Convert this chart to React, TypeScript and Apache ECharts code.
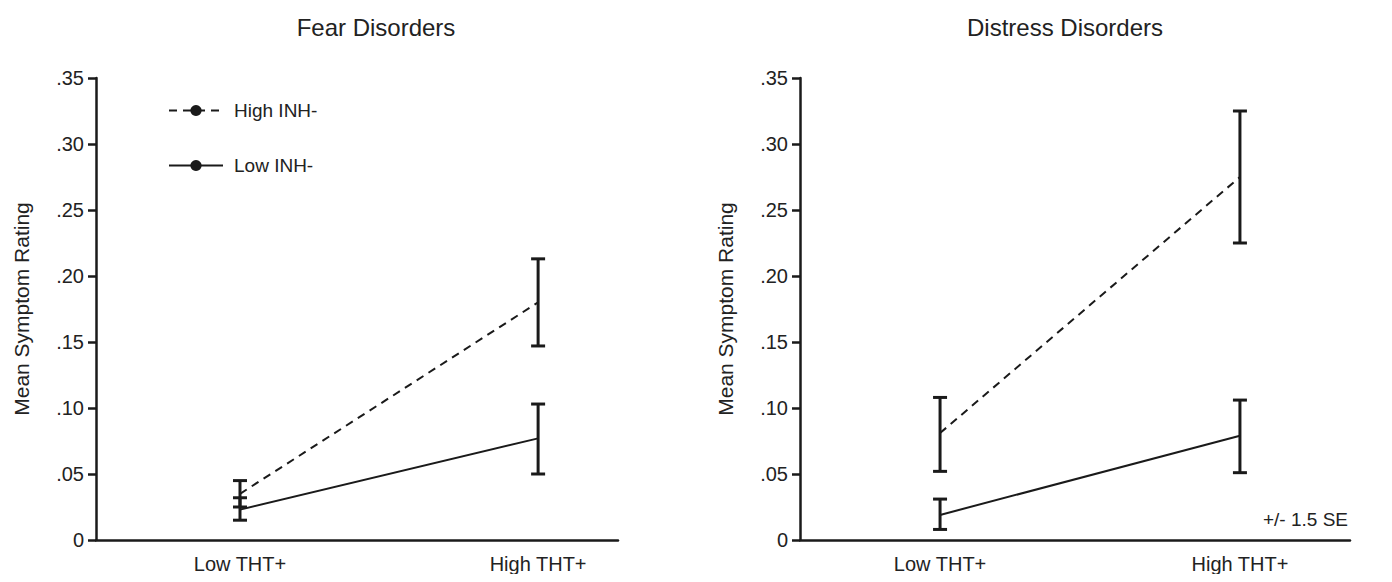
import { useEffect, useRef } from 'react'
import * as echarts from 'echarts'

const categories = ['Low THT+', 'High THT+']
const seriesNames = ['High INH-', 'Low INH-']

// Fear disorders: mean, lower, upper (+/- 1.5 SE)
const fearHigh = [0.035, 0.18]
const fearHighLo = [0.025, 0.147]
const fearHighHi = [0.045, 0.213]
const fearLow = [0.023, 0.077]
const fearLowLo = [0.015, 0.05]
const fearLowHi = [0.032, 0.103]

// Distress disorders
const distHigh = [0.081, 0.275]
const distHighLo = [0.052, 0.225]
const distHighHi = [0.108, 0.325]
const distLow = [0.019, 0.079]
const distLowLo = [0.008, 0.051]
const distLowHi = [0.031, 0.106]

const font = 'Liberation Sans, Arial, sans-serif'

const yFmt = (v: number) => (v === 0 ? '0' : '.' + Math.round(v * 100).toString().padStart(2, '0'))

function errorSeries(idx: number, lo: number[], hi: number[]) {
  return {
    type: 'custom',
    xAxisIndex: idx,
    yAxisIndex: idx,
    data: lo.map((l, i) => [i, l, hi[i]]),
    renderItem: (_p: any, api: any) => {
      const a = api.coord([api.value(0), api.value(1)])
      const b = api.coord([api.value(0), api.value(2)])
      const w = 7
      const st = { stroke: '#1a1a1a', lineWidth: 3 }
      return {
        type: 'group',
        children: [
          { type: 'line', shape: { x1: a[0], y1: a[1], x2: b[0], y2: b[1] }, style: st },
          { type: 'line', shape: { x1: a[0] - w, y1: a[1], x2: a[0] + w, y2: a[1] }, style: st },
          { type: 'line', shape: { x1: b[0] - w, y1: b[1], x2: b[0] + w, y2: b[1] }, style: st },
        ],
      }
    },
    z: 5,
  }
}

function lineSeries(idx: number, name: string, data: number[], dashed: boolean) {
  return {
    type: 'line',
    name,
    xAxisIndex: idx,
    yAxisIndex: idx,
    data: data.map((v, i) => [i, v]),
    symbol: 'none',
    lineStyle: { color: '#1a1a1a', width: 2, type: dashed ? [8, 6] : 'solid' },
    itemStyle: { color: '#1a1a1a' },
  }
}

export default function App() {
  const ref = useRef<HTMLDivElement>(null)

  useEffect(() => {
    if (!ref.current) return
    const chart = echarts.init(ref.current, null, { renderer: 'svg' })
    const axisLine = { show: true, onZero: false, lineStyle: { color: '#1a1a1a', width: 2.5 } }
    const xAxis = (min: number, max: number, gridIndex: number) => ({
      type: 'value',
      gridIndex,
      min,
      max,
      axisLine,
      axisTick: { show: false },
      splitLine: { show: false },
      axisLabel: {
        customValues: [0, 1],
        formatter: (v: number) => categories[Math.round(v)] ?? '',
        fontSize: 20,
        color: '#222',
        fontFamily: font,
        margin: 14,
      },
    })
    const yAxis = (gridIndex: number) => ({
      type: 'value',
      gridIndex,
      min: 0,
      max: 0.35,
      interval: 0.05,
      name: 'Mean Symptom Rating',
      nameLocation: 'middle',
      nameGap: 64,
      nameTextStyle: { fontSize: 21, color: '#222', fontFamily: font },
      axisLine,
      axisTick: { show: true, length: 8, lineStyle: { width: 2.5, color: '#1a1a1a' } },
      splitLine: { show: false },
      axisLabel: { formatter: yFmt, fontSize: 20, color: '#222', fontFamily: font, margin: 12 },
    })
    chart.setOption({
      animation: false,
      backgroundColor: '#fff',
      title: [
        { text: 'Fear Disorders', left: 363, top: 2, textAlign: 'center', textStyle: { fontSize: 24, fontWeight: 'normal', color: '#222', fontFamily: font } },
        { text: 'Distress Disorders', left: 1052, top: 2, textAlign: 'center', textStyle: { fontSize: 24, fontWeight: 'normal', color: '#222', fontFamily: font } },
      ],
      legend: {
        data: seriesNames,
        orient: 'vertical',
        left: 155,
        top: 88,
        itemWidth: 54,
        itemHeight: 14,
        itemGap: 36,
        textStyle: { fontSize: 19, color: '#222', fontFamily: font, padding: [0, 0, 0, 6] },
      },
      grid: [
        { left: 88, width: 522, top: 70, bottom: 33 },
        { left: 792, width: 550, top: 70, bottom: 33 },
      ],
      xAxis: [xAxis(-0.483, 1.268, 0), xAxis(-0.467, 1.367, 1)],
      yAxis: [yAxis(0), yAxis(1)],
      graphic: [
        { type: 'text', right: 36, top: 502, style: { text: '+/- 1.5 SE', fontSize: 19, fill: '#222', fontFamily: font } },
      ],
      series: [
        lineSeries(0, seriesNames[0], fearHigh, true),
        lineSeries(0, seriesNames[1], fearLow, false),
        errorSeries(0, fearHighLo, fearHighHi),
        errorSeries(0, fearLowLo, fearLowHi),
        lineSeries(1, seriesNames[0], distHigh, true),
        lineSeries(1, seriesNames[1], distLow, false),
        errorSeries(1, distHighLo, distHighHi),
        errorSeries(1, distLowLo, distLowHi),
      ],
    })
    return () => chart.dispose()
  }, [])

  return <div ref={ref} style={{ width: 1376, height: 566 }} />
}
